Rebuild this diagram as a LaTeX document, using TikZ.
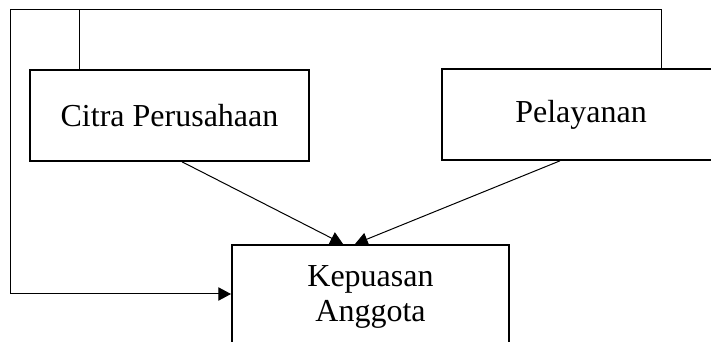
\documentclass[tikz,border=0pt]{standalone}
\usepackage{fontspec}
\setmainfont{Liberation Serif}
\usetikzlibrary{arrows.meta}

\begin{document}
\begin{tikzpicture}[x=0.75pt,y=-0.75pt,
		varbox/.style={draw,line width=1.5pt,inner sep=0pt,align=center,font=\fontsize{24}{26}\selectfont},
		link/.style={line width=0.75pt},
		tip/.style={-{Triangle[length=9.5pt,width=10pt]}}]
	\useasboundingbox (0,0) rectangle (711,342);
	\clip (0,0) rectangle (711,342);
	% variables
	\node[varbox,minimum width=209pt,minimum height=68pt] (citra) at (169.5,115.5) {Citra Perusahaan};
	\node[varbox,minimum width=208.5pt,minimum height=68pt] (pel) at (581,114.5) {Pelayanan};
	\node[varbox,minimum width=207.75pt,minimum height=78pt] (kep) at (370.5,297) {Kepuasan\\Anggota};
	% loop round the top
	\coordinate (tl) at (10,10);
	\coordinate (tr) at (661,10);
	\coordinate (c1) at (79,10);
	\coordinate (lb) at (10,294);
	\draw[link] (citra.north -| c1) -- (c1);
	\draw[link,tip] (pel.north -| tr) -- (tr) -- (tl) -- (lb) -- (lb -| kep.west);
	% direct effects
	\draw[link,tip] ([xshift=9.4pt]citra.south) -- ([xshift=-20.6pt]kep.north);
	\draw[link,tip] ([xshift=-15.75pt]pel.south) -- ([xshift=-11.6pt]kep.north);
\end{tikzpicture}
\end{document}
